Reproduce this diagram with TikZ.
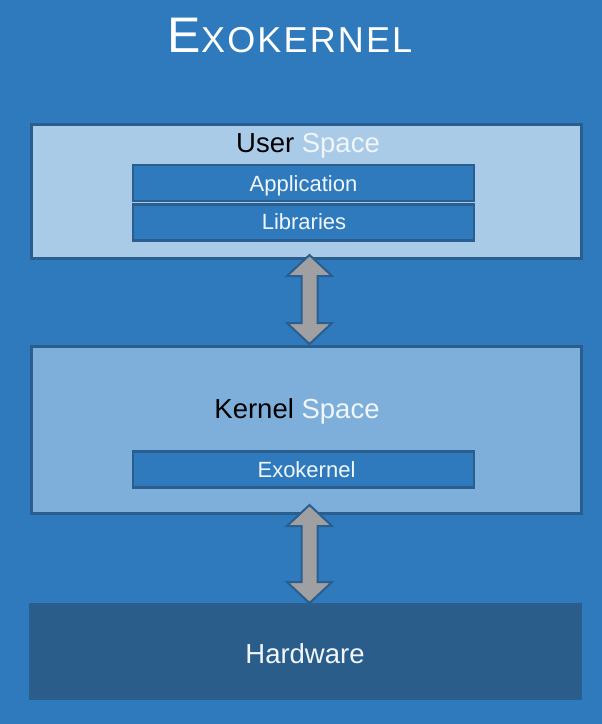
\documentclass[tikz,border=0pt]{standalone}
\usepackage{fontspec}
\setmainfont{Liberation Sans}
\newfontfamily\titlefont[LetterSpace=6]{Liberation Sans}
\usetikzlibrary{calc}
\definecolor{bg}{RGB}{47,122,189}
\definecolor{userfill}{RGB}{169,203,232}
\definecolor{kernfill}{RGB}{126,175,219}
\definecolor{border}{RGB}{42,94,142}
\definecolor{hwfill}{RGB}{43,93,139}
\definecolor{arrowgray}{RGB}{160,160,162}
\definecolor{txtwhite}{RGB}{240,246,252}
\tikzset{
  layerbox/.style={draw=border, line width=3pt, inner sep=0pt, minimum width=550pt},
  innerbox/.style={draw=border, line width=2.5pt, fill=bg, inner sep=0pt, minimum width=341pt, minimum height=36pt},
  innertext/.style={anchor=base, text=txtwhite, font=\fontsize{22}{22}\selectfont, inner sep=0pt},
  bigtext/.style={anchor=base, font=\fontsize{27.5}{28}\selectfont, inner sep=0pt},
  arrowst/.style={draw=border, line width=2pt, fill=arrowgray, line join=miter}
}
\newcommand\myDblArrow[2]{\draw[arrowst] (#1) -- ($(#1)+(22.5,21)$) -- ($(#1)+(8,21)$) -- ($(#2)+(8,-21)$) -- ($(#2)+(22.5,-21)$) -- (#2) -- ($(#2)+(-22.5,-21)$) -- ($(#2)+(-8,-21)$) -- ($(#1)+(-8,21)$) -- ($(#1)+(-22.5,21)$) -- cycle;}
\begin{document}
\begin{tikzpicture}[x=1pt,y=-1pt]
\useasboundingbox (0,0) rectangle (602,724);
\fill[bg] (0,0) rectangle (602,724);
% title
\node[anchor=base, text=white, inner sep=0pt] (title) at (290,52) {\titlefont\fontsize{50}{50}\selectfont E\fontsize{36}{36}\selectfont XOKERNEL};
% user space
\node[layerbox, fill=userfill, minimum height=134pt] (user) at (306,191) {};
\node[bigtext] (usertxt) at (308,152) {User \textcolor{txtwhite}{Space}};
\node[innerbox] (app) at (303.5,183) {};
\node[innertext] (apptxt) at (303.5,191) {Application};
\node[innerbox] (lib) at (303.5,222.5) {};
\node[innertext] (libtxt) at (304,229.5) {Libraries};
% kernel space
\node[layerbox, fill=kernfill, minimum height=167pt] (kern) at (306,429.5) {};
\node[bigtext] (kerntxt) at (297,418) {Kernel \textcolor{txtwhite}{Space}};
\node[innerbox] (exo) at (303.5,469.5) {};
\node[innertext] (exotxt) at (306.5,477) {Exokernel};
% hardware
\node[draw=border, line width=1.5pt, fill=hwfill, inner sep=0pt, minimum width=551pt, minimum height=95pt] (hw) at (305.5,651.5) {};
\node[bigtext, text=txtwhite] (hwtxt) at (305,663) {Hardware};
% arrows
\coordinate (a1t) at (309.5,255);
\coordinate (a1b) at (309.5,344);
\coordinate (a2t) at (309.5,505);
\coordinate (a2b) at (309.5,603);
\myDblArrow{a1t}{a1b}
\myDblArrow{a2t}{a2b}
\end{tikzpicture}
\end{document}
